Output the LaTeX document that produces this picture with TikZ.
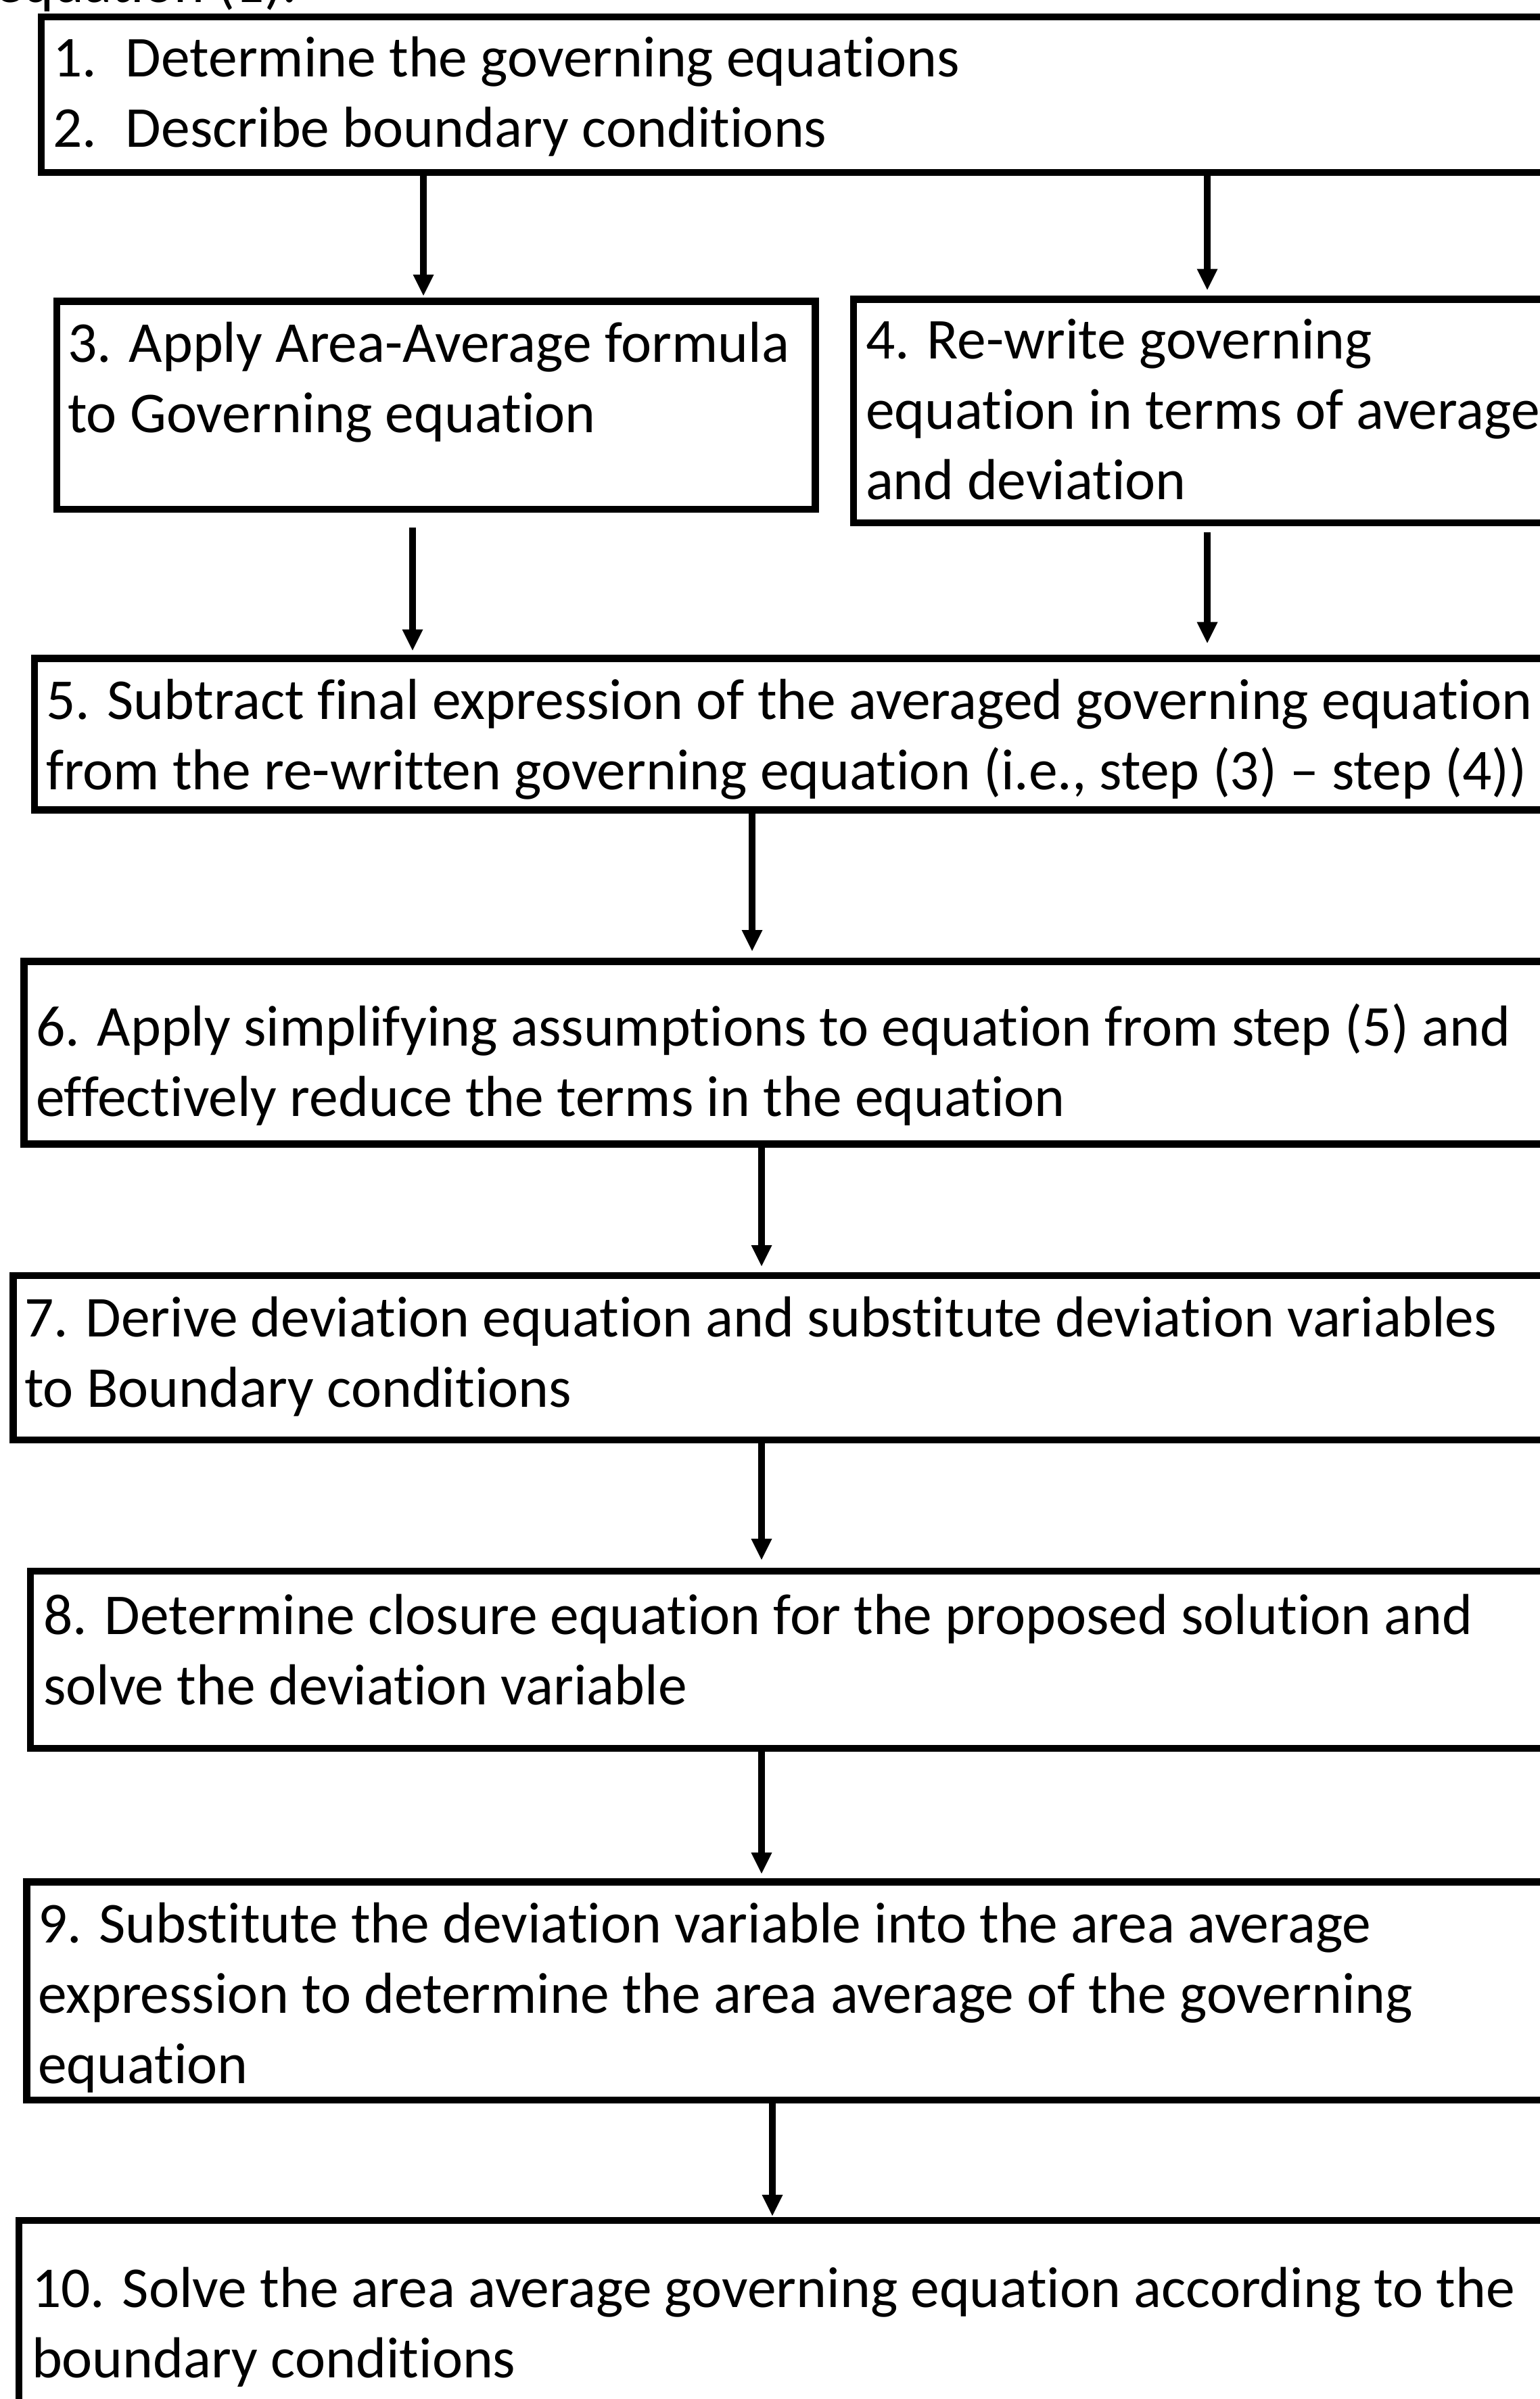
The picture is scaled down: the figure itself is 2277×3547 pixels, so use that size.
\documentclass[tikz,border=0pt]{standalone}
\usepackage{fontspec}
\setmainfont{Carlito}[Ligatures={NoCommon}]
\usetikzlibrary{arrows.meta,calc}
\begin{document}
\begin{tikzpicture}[x=1pt,y=1pt,
  box/.style={draw=black, line width=10.5pt, outer sep=0pt, inner sep=0pt, anchor=north west},
  txt/.style={anchor=base west, inner sep=0pt, outer sep=0pt, font=\fontsize{85.5}{104}\selectfont},
  arr/.style={line width=10pt, -{Triangle[length=31pt,width=31pt,line width=0pt]}}]
\useasboundingbox (0,0) rectangle (2277,-3547);
\clip (0,0) rectangle (2277,-3547);
% boxes
\node[box, minimum width=2339pt, minimum height=230pt]   (b1)  at (61,-25) {};
\node[box, minimum width=1121.7pt, minimum height=307.5pt] (b3) at (84,-445.5) {};
\node[box, minimum width=1100pt, minimum height=330.5pt] (b4)  at (1262,-442.5) {};
\node[box, minimum width=2300pt, minimum height=224pt]   (b5)  at (51,-973.7) {};
\node[box, minimum width=2300pt, minimum height=270pt]   (b6)  at (35.5,-1421.7) {};
\node[box, minimum width=2300pt, minimum height=243pt]   (b7)  at (19.3,-1886) {};
\node[box, minimum width=2300pt, minimum height=262pt]   (b8)  at (45,-2323) {};
\node[box, minimum width=2300pt, minimum height=322.5pt] (b9)  at (39.3,-2782.5) {};
\node[box, minimum width=2300pt, minimum height=400pt]   (b10) at (28,-3283) {};
% texts
\node[txt] (t0) at (-8,-3) {equation (1).};
\node[txt] (t1) at (78,-113) {\begin{tabular}[t]{@{}l@{}}\makebox[108pt][l]{1.}Determine the governing equations\\ \makebox[108pt][l]{2.}Describe boundary conditions\end{tabular}};
\node[txt] (t3) at (100,-535) {\begin{tabular}[t]{@{}l@{}}3. Apply Area-Average formula\\to Governing equation\end{tabular}};
\node[txt] (t4) at (1280,-530.6) {\begin{tabular}[t]{@{}l@{}}4. Re-write governing\\equation in terms of average\\and deviation\end{tabular}};
\node[txt] (t5) at (68,-1063) {\begin{tabular}[t]{@{}l@{}}5. Subtract final expression of the averaged governing equation\\from the re-written governing equation (i.e., step (3) – step (4))\end{tabular}};
\node[txt] (t6) at (53,-1546.7) {\begin{tabular}[t]{@{}l@{}}6. Apply simplifying assumptions to equation from step (5) and\\effectively reduce the terms in the equation\end{tabular}};
\node[txt] (t7) at (36,-1976) {\begin{tabular}[t]{@{}l@{}}7. Derive deviation equation and substitute deviation variables\\to Boundary conditions\end{tabular}};
\node[txt] (t8) at (64,-2416) {\begin{tabular}[t]{@{}l@{}}8. Determine closure equation for the proposed solution and\\solve the deviation variable\end{tabular}};
\node[txt] (t9) at (56,-2872.7) {\begin{tabular}[t]{@{}l@{}}9. Substitute the deviation variable into the area average\\expression to determine the area average of the governing\\equation\end{tabular}};
\node[txt] (t10) at (47,-3411.7) {\begin{tabular}[t]{@{}l@{}}10. Solve the area average governing equation according to the\\boundary conditions\end{tabular}};
% arrow columns
\coordinate (c1) at (626,0);
\coordinate (c2) at (1785,0);
\coordinate (c3) at (610,0);
\coordinate (c5) at (1112,0);
\coordinate (c6) at (1126,0);
\coordinate (c9) at (1142,0);
% arrows
\draw[arr] (b1.south -| c1) -- ($(b3.north -| c1)+(0,8.5)$);
\draw[arr] (b1.south -| c2) -- ($(b4.north -| c2)+(0,14)$);
\draw[arr] ($(b3.south -| c3)+(0,-27)$) -- ($(b5.north -| c3)+(0,12)$);
\draw[arr] ($(b4.south -| c2)+(0,-14)$) -- ($(b5.north -| c2)+(0,23)$);
\draw[arr] (b5.south -| c5) -- ($(b6.north -| c5)+(0,15.7)$);
\draw[arr] (b6.south -| c6) -- ($(b7.north -| c6)+(0,14)$);
\draw[arr] (b7.south -| c6) -- ($(b8.north -| c6)+(0,17)$);
\draw[arr] (b8.south -| c6) -- ($(b9.north -| c6)+(0,12.5)$);
\draw[arr] (b9.south -| c9) -- ($(b10.north -| c9)+(0,7)$);
\end{tikzpicture}
\end{document}
